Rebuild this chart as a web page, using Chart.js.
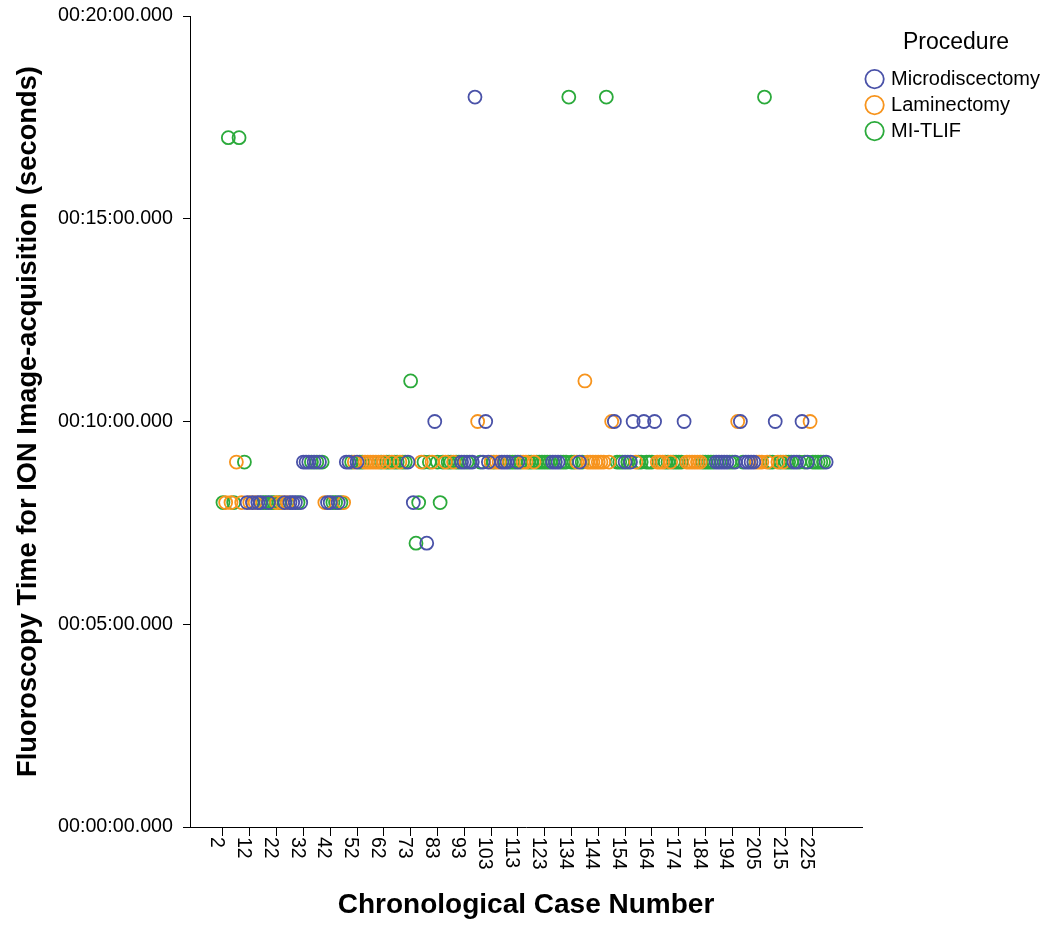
<!DOCTYPE html>
<html>
<head>
<meta charset="utf-8">
<script src="https://cdn.jsdelivr.net/npm/chart.js@4/dist/chart.umd.min.js"></script>
<style>
  body { margin: 0; background: #fff; }
  #wrap { width: 1050px; height: 925px; }
</style>
</head>
<body>
<div id="wrap"><canvas id="fluoro_chart"></canvas></div>
<script>
// case numbers in chronological order (63..72, 124..133, 195..204 each miss one)
const caseNumbers = [
    2, 3, 4, 5, 6, 7, 8, 9, 10, 11, 12, 13, 14, 15, 16, 17, 18, 19, 20, 21,
    22, 23, 24, 25, 26, 27, 28, 29, 30, 31, 32, 33, 34, 35, 36, 37, 38, 39, 40, 41,
    42, 43, 44, 45, 46, 47, 48, 49, 50, 51, 52, 53, 54, 55, 56, 57, 58, 59, 60, 61,
    62, 63, 64, 65, 66, 68, 69, 70, 71, 72, 73, 74, 75, 76, 77, 78, 79, 80, 81, 82,
    83, 84, 85, 86, 87, 88, 89, 90, 91, 92, 93, 94, 95, 96, 97, 98, 99, 100, 101, 102,
    103, 104, 105, 106, 107, 108, 109, 110, 111, 112, 113, 114, 115, 116, 117, 118, 119, 120, 121, 122,
    123, 124, 125, 126, 127, 128, 130, 131, 132, 133, 134, 135, 136, 137, 138, 139, 140, 141, 142, 143,
    144, 145, 146, 147, 148, 149, 150, 151, 152, 153, 154, 155, 156, 157, 158, 159, 160, 161, 162, 163,
    164, 165, 166, 167, 168, 169, 170, 171, 172, 173, 174, 175, 176, 177, 178, 179, 180, 181, 182, 183,
    184, 185, 186, 187, 188, 189, 190, 191, 192, 193, 194, 195, 196, 197, 198, 200, 201, 202, 203, 204,
    205, 206, 207, 208, 209, 210, 211, 212, 213, 214, 215, 216, 217, 218, 219, 220, 221, 222, 223, 224,
    225, 226, 227, 228, 229, 230,
];

// M = Microdiscectomy, L = Laminectomy, T = MI-TLIF (one per case above)
const procedureCodes = [
    "T", "L", "T", "L", "T", "L", "T", "L", "T", "M", "L", "M", "L", "M", "M", "T", "T", "M", "T", "T",
    "L", "T", "L", "M", "L", "M", "M", "M", "T", "M", "M", "M", "M", "T", "M", "T", "M", "T", "L", "M",
    "M", "T", "T", "M", "T", "L", "M", "M", "T", "L", "M", "T", "T", "L", "L", "L", "L", "L", "L", "T",
    "L", "T", "T", "L", "T", "T", "L", "T", "T", "M", "T", "M", "T", "T", "L", "T", "M", "T", "L", "M",
    "T", "T", "T", "L", "T", "T", "L", "T", "T", "M", "M", "T", "M", "M", "M", "L", "T", "M", "M", "M",
    "L", "T", "L", "L", "M", "M", "M", "T", "T", "T", "M", "T", "L", "L", "T", "T", "L", "T", "T", "T",
    "T", "T", "T", "M", "M", "M", "T", "T", "T", "T", "T", "T", "L", "M", "T", "L", "L", "L", "L", "L",
    "L", "L", "L", "T", "L", "L", "M", "T", "T", "T", "M", "T", "M", "M", "L", "T", "T", "M", "T", "T",
    "T", "M", "L", "L", "L", "T", "T", "L", "T", "T", "T", "T", "M", "L", "L", "L", "L", "L", "L", "T",
    "T", "T", "T", "T", "M", "M", "M", "M", "M", "T", "T", "M", "L", "M", "T", "M", "M", "M", "M", "L",
    "L", "L", "T", "L", "T", "T", "M", "L", "T", "L", "T", "T", "T", "M", "M", "T", "M", "T", "M", "L",
    "T", "T", "T", "T", "T", "M",
];

// fluoroscopy time for ION image acquisition, seconds
const fluoroSeconds = [
    8, 8, 17, 8, 8, 9, 17, 8, 9, 8, 8, 8, 8, 8, 8, 8, 8, 8, 8, 8,
    8, 8, 8, 8, 8, 8, 8, 8, 8, 8, 9, 9, 9, 9, 9, 9, 9, 9, 8, 8,
    8, 8, 8, 8, 8, 8, 9, 9, 9, 9, 9, 9, 9, 9, 9, 9, 9, 9, 9, 9,
    9, 9, 9, 9, 9, 9, 9, 9, 9, 9, 11, 8, 7, 8, 9, 9, 7, 9, 9, 10,
    9, 8, 9, 9, 9, 9, 9, 9, 9, 9, 9, 9, 9, 9, 18, 10, 9, 9, 10, 9,
    9, 9, 9, 9, 9, 9, 9, 9, 9, 9, 9, 9, 9, 9, 9, 9, 9, 9, 9, 9,
    9, 9, 9, 9, 9, 9, 9, 9, 9, 18, 9, 9, 9, 9, 9, 11, 9, 9, 9, 9,
    9, 9, 9, 18, 9, 10, 10, 9, 9, 9, 9, 9, 9, 10, 9, 9, 9, 10, 9, 9,
    9, 10, 9, 9, 9, 9, 9, 9, 9, 9, 9, 9, 10, 9, 9, 9, 9, 9, 9, 9,
    9, 9, 9, 9, 9, 9, 9, 9, 9, 9, 9, 9, 10, 10, 9, 9, 9, 9, 9, 9,
    9, 9, 18, 9, 9, 9, 10, 9, 9, 9, 9, 9, 9, 9, 9, 9, 10, 9, 9, 10,
    9, 9, 9, 9, 9, 9,
];

const procedureNames = { M: "Microdiscectomy", L: "Laminectomy", T: "MI-TLIF" };
const procedureColors = { M: "#4A52A8", L: "#F7941D", T: "#2BAA3B" };

const xTickLabels = [2, 12, 22, 32, 42, 52, 62, 73, 83, 93, 103, 113, 123, 134, 144, 154, 164, 174, 184, 194, 205, 215, 225];
const yTickValues = [0, 5, 10, 15, 20];
const yTickLabels = ["00:00:00.000", "00:05:00.000", "00:10:00.000", "00:15:00.000", "00:20:00.000"];

const fontFamily = '"Liberation Sans", Arial, Helvetica, sans-serif';
Chart.defaults.font.family = fontFamily;
Chart.defaults.color = "#000";

function pointsFor(code) {
    const pts = [];
    procedureCodes.forEach((c, i) => {
        if (c === code) pts.push({ x: i, y: fluoroSeconds[i] });
    });
    return pts;
}

const datasets = ["M", "L", "T"].map((code) => ({
    label: procedureNames[code],
    data: pointsFor(code),
    pointStyle: "circle",
    pointRadius: 6.5,
    pointHoverRadius: 6.5,
    pointBorderWidth: 1.8,
    borderColor: procedureColors[code],
    backgroundColor: "rgba(0,0,0,0)",
    pointBackgroundColor: "rgba(0,0,0,0)",
    pointBorderColor: procedureColors[code],
    showLine: false,
}));

// x tick labels read top-to-bottom (rotated clockwise), so they are drawn here
const xLabelPlugin = {
    id: "xLabels",
    afterDraw(chart) {
        const { ctx } = chart;
        const x = chart.scales.x;
        ctx.save();
        ctx.font = "19.5px " + fontFamily;
        ctx.fillStyle = "#000";
        ctx.textAlign = "left";
        ctx.textBaseline = "middle";
        xTickLabels.forEach((c) => {
            const px = x.getPixelForValue(caseNumbers.indexOf(c));
            ctx.save();
            ctx.translate(px - 6.5, x.top + 10);
            ctx.rotate(Math.PI / 2);
            ctx.fillText(String(c), 0, 0);
            ctx.restore();
        });
        ctx.restore();
    },
};

const fluoroChart = new Chart(document.querySelector("#fluoro_chart").getContext("2d"), {
    type: "scatter",
    data: { datasets: datasets },
    options: {
        responsive: true,
        maintainAspectRatio: false,
        animation: false,
        layout: { padding: { top: 16, right: 0, bottom: 0, left: 0 } },
        plugins: {
            tooltip: { enabled: false },
            legend: {
                position: "right",
                align: "start",
                title: {
                    display: true,
                    text: "Procedure",
                    font: { size: 23 },
                    padding: { top: 15.5, bottom: 4 },
                    color: "#000",
                },
                labels: {
                    usePointStyle: true,
                    pointStyle: "circle",
                    boxWidth: 13,
                    boxHeight: 13,
                    padding: 6,
                    font: { size: 20 },
                    color: "#000",
                },
            },
        },
        scales: {
            x: {
                type: "linear",
                min: -12.3,
                max: 238.4,
                afterBuildTicks: (scale) => {
                    scale.ticks = xTickLabels.map((c) => ({ value: caseNumbers.indexOf(c) }));
                },
                afterFit: (scale) => {
                    scale.height = 98;
                },
                ticks: { display: false },
                grid: { drawOnChartArea: false, drawTicks: true, tickLength: 9, color: "#000" },
                border: { display: true, color: "#000", width: 1 },
                title: {
                    display: true,
                    text: "Chronological Case Number",
                    font: { size: 28, weight: "bold" },
                    padding: { top: 0, bottom: 3 },
                    color: "#000",
                },
            },
            y: {
                min: 0,
                max: 20,
                afterBuildTicks: (scale) => {
                    scale.ticks = yTickValues.map((v) => ({ value: v }));
                },
                afterFit: (scale) => {
                    scale.width = 190;
                    scale.paddingTop = 0;
                    scale.paddingBottom = 0;
                },
                ticks: {
                    callback: (value, index) => yTickLabels[index],
                    font: { size: 19.7 },
                    color: "#000",
                    padding: 10,
                },
                grid: { drawOnChartArea: false, drawTicks: true, tickLength: 7, color: "#000" },
                border: { display: true, color: "#000", width: 1 },
                title: {
                    display: true,
                    text: "Fluoroscopy Time for ION Image-acquisition (seconds)",
                    font: { size: 27.3, weight: "bold" },
                    padding: { top: 12, bottom: 0 },
                    color: "#000",
                },
            },
        },
    },
    plugins: [xLabelPlugin],
});
</script>
</body>
</html>
